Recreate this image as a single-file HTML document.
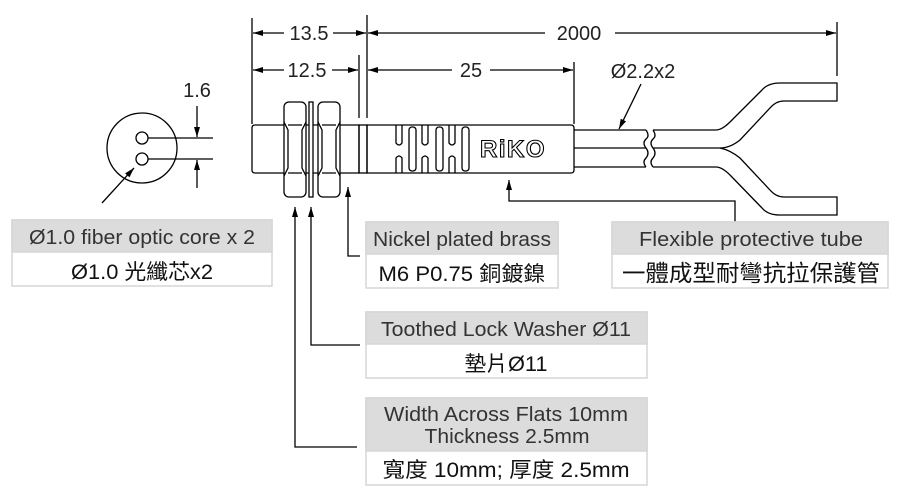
<!DOCTYPE html>
<html><head><meta charset="utf-8"><style>
html,body{margin:0;padding:0;background:#fff;}
svg{display:block;}
text{font-family:"Liberation Sans","Noto Sans CJK TC",sans-serif;}
</style></head><body>
<svg width="900" height="491" viewBox="0 0 900 491" xmlns="http://www.w3.org/2000/svg">
<defs>
<marker id="a" markerWidth="10" markerHeight="6" refX="10" refY="3" orient="auto-start-reverse" markerUnits="userSpaceOnUse"><path d="M0,0 L10,3 L0,6z" fill="#000"/></marker>
</defs>
<g stroke="#000" stroke-width="1.3" fill="none">
<line x1="252" y1="18" x2="252" y2="124"/>
<line x1="367" y1="15" x2="367" y2="118"/>
<line x1="359" y1="55" x2="359" y2="118"/>
<line x1="574" y1="62" x2="574" y2="124"/>
<line x1="837" y1="22" x2="837" y2="76"/>
<line x1="253" y1="33" x2="284" y2="33" marker-start="url(#a)"/>
<line x1="333" y1="33" x2="366" y2="33" marker-end="url(#a)"/>
<line x1="368" y1="33" x2="545" y2="33" marker-start="url(#a)"/>
<line x1="615" y1="33" x2="836" y2="33" marker-end="url(#a)"/>
<line x1="253" y1="70" x2="284" y2="70" marker-start="url(#a)"/>
<line x1="332" y1="70" x2="358" y2="70" marker-end="url(#a)"/>
<line x1="368" y1="70" x2="452" y2="70" marker-start="url(#a)"/>
<line x1="490" y1="70" x2="573" y2="70" marker-end="url(#a)"/>
<path d="M255,125 H359 V173 H255 Q252,173 252,170 V128 Q252,125 255,125Z"/>
<rect x="359" y="125" width="8" height="48"/>
<path d="M367,125 H571 Q574,125 574,128 V170 Q574,173 571,173 H367Z"/>
<rect x="284" y="102" width="22" height="95" rx="5" fill="#fff"/>
<path d="M284,122 Q286,126 288,130 V168 Q286,172 284,176"/>
<path d="M306,122 Q304,126 302,130 V168 Q304,172 306,176"/>
<path d="M288,125 H302 M288,173 H302"/>
<rect x="318" y="102" width="22" height="95" rx="5" fill="#fff"/>
<path d="M318,122 Q320,126 322,130 V168 Q320,172 318,176"/>
<path d="M340,122 Q338,126 336,130 V168 Q338,172 340,176"/>
<path d="M322,125 H336 M322,173 H336"/>
<rect x="309" y="102" width="4" height="95" fill="#fff"/>
<path d="M396,125 V143 Q399,147 402,143 V125"/>
<path d="M396,173 V158 Q399,154 402,158 V173"/>
<rect x="409" y="127" width="7" height="44" rx="3"/>
<path d="M422,125 V143 Q425,147 428,143 V125"/>
<path d="M422,173 V158 Q425,154 428,158 V173"/>
<rect x="436" y="127" width="7" height="44" rx="3"/>
<path d="M449,125 V143 Q452,147 455,143 V125"/>
<path d="M449,173 V158 Q452,154 455,158 V173"/>
<rect x="462" y="127" width="7" height="44" rx="3"/>
<line x1="574" y1="130" x2="646" y2="130"/>
<line x1="574" y1="148" x2="646" y2="148"/>
<line x1="574" y1="167" x2="646" y2="167"/>
<path d="M646,130 q4,6 0,9 q-4,4 0,9 q4,5 0,10 q-4,4 0,9"/>
<path d="M653,130 q4,6 0,9 q-4,4 0,9 q4,5 0,10 q-4,4 0,9"/>
<path d="M653,130 H716 Q722,130 730,122 L762,90 Q768,83 780,83 H837 V101 H784 Q776,101 770,108 L740,140 Q730,148 720,148 H653"/>
<path d="M720,148 Q730,150 740,158 L770,190 Q776,197 784,197 H837 V215 H780 Q768,215 762,208 L730,175 Q722,167 716,167 H653"/>
<line x1="641" y1="84" x2="619" y2="129" marker-end="url(#a)"/>
<circle cx="142" cy="148" r="35"/>
<circle cx="142" cy="138" r="6"/>
<circle cx="142" cy="159" r="6"/>
<line x1="148" y1="138" x2="213" y2="138"/>
<line x1="148" y1="159" x2="213" y2="159"/>
<line x1="197" y1="106" x2="197" y2="137" marker-end="url(#a)"/>
<line x1="197" y1="188" x2="197" y2="160" marker-end="url(#a)"/>
<line x1="102" y1="203" x2="134" y2="168" marker-end="url(#a)"/>
<path d="M348,187 V256 H360" marker-start="url(#a)"/>
<path d="M311,207 V345 H360" marker-start="url(#a)"/>
<path d="M295,207 V447 H357" marker-start="url(#a)"/>
<path d="M509,180 V201 H735 V222" marker-start="url(#a)"/>
</g>
<text x="480" y="157" font-size="24" font-weight="bold" fill="#fff" stroke="#000" stroke-width="1.1" letter-spacing="1.5">RiKO</text>
<g font-size="20" fill="#222" text-anchor="middle">
<text x="309" y="40">13.5</text>
<text x="579" y="40">2000</text>
<text x="307" y="77">12.5</text>
<text x="471" y="77">25</text>
<text x="643" y="78">Ø2.2x2</text>
<text x="197" y="97">1.6</text>
</g>
<g stroke="#d6d6d6" stroke-width="1.5">
<rect x="12" y="220" width="260" height="66" fill="#fff"/><rect x="12" y="220" width="260" height="32" fill="#dcdcdc"/>
<rect x="366" y="222" width="192" height="66" fill="#fff"/><rect x="366" y="222" width="192" height="32" fill="#dcdcdc"/>
<rect x="612" y="222" width="276" height="66" fill="#fff"/><rect x="612" y="222" width="276" height="32" fill="#dcdcdc"/>
<rect x="366" y="312" width="281" height="66" fill="#fff"/><rect x="366" y="312" width="281" height="32" fill="#dcdcdc"/>
<rect x="366" y="398" width="281" height="87" fill="#fff"/><rect x="366" y="398" width="281" height="53" fill="#dcdcdc"/>
</g>
<g font-size="20" fill="#333" text-anchor="middle">
<text x="142" y="244" textLength="226" lengthAdjust="spacingAndGlyphs">Ø1.0 fiber optic core x 2</text>
<text x="142" y="279" fill="#111" font-size="21" textLength="142" lengthAdjust="spacingAndGlyphs">Ø1.0 光纖芯x2</text>
<text x="462" y="246" textLength="178" lengthAdjust="spacingAndGlyphs">Nickel plated brass</text>
<text x="462" y="281" fill="#111" font-size="21" textLength="167" lengthAdjust="spacingAndGlyphs">M6 P0.75 銅鍍鎳</text>
<text x="751" y="246" textLength="224" lengthAdjust="spacingAndGlyphs">Flexible protective tube</text>
<text x="751" y="281" fill="#111" font-size="23" textLength="258" lengthAdjust="spacingAndGlyphs">一體成型耐彎抗拉保護管</text>
<text x="506" y="336" textLength="250" lengthAdjust="spacingAndGlyphs">Toothed Lock Washer Ø11</text>
<text x="506" y="371" fill="#111" font-size="21" textLength="83" lengthAdjust="spacingAndGlyphs">墊片Ø11</text>
<text x="506" y="421" textLength="244" lengthAdjust="spacingAndGlyphs">Width Across Flats 10mm</text>
<text x="507" y="443" textLength="165" lengthAdjust="spacingAndGlyphs">Thickness 2.5mm</text>
<text x="506" y="477" fill="#111" font-size="21" textLength="247" lengthAdjust="spacingAndGlyphs">寬度 10mm; 厚度 2.5mm</text>
</g>
</svg>
</body></html>
